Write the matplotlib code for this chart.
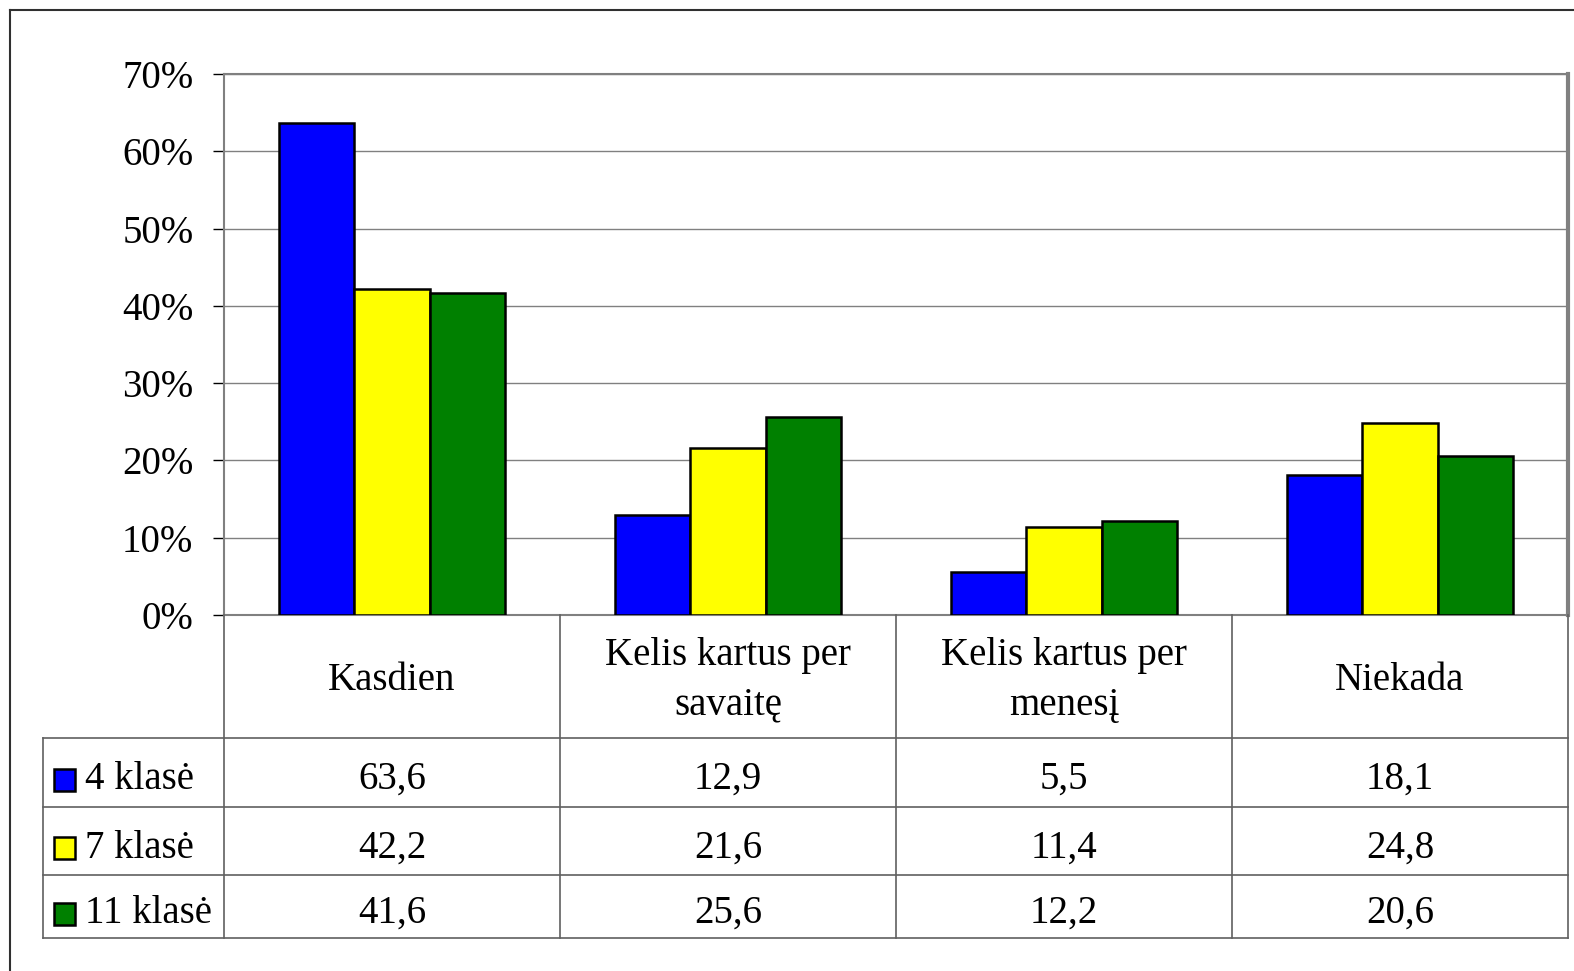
import matplotlib.pyplot as plt
import matplotlib.transforms as mtransforms
from matplotlib.lines import Line2D
from matplotlib.patches import Rectangle
import numpy as np

plt.rcParams['font.family'] = ['Liberation Serif', 'DejaVu Serif']

categories = ['Kasdien', 'Kelis kartus per\nsavaitę', 'Kelis kartus per\nmenesį', 'Niekada']
series = ['4 klasė', '7 klasė', '11 klasė']
values_4 = [63.6, 12.9, 5.5, 18.1]
values_7 = [42.2, 21.6, 11.4, 24.8]
values_11 = [41.6, 25.6, 12.2, 20.6]
colors = ['#0000FF', '#FFFF00', '#008000']
yticks = [0, 10, 20, 30, 40, 50, 60, 70]

W, H = 1574, 971
fig = plt.figure(figsize=(W / 100, H / 100), dpi=100)

def fy(px):
    return 1 - px / H

def fx(px):
    return px / W

ax = fig.add_axes([fx(224), fy(615), fx(1568) - fx(224), fy(74) - fy(615)])

x = np.arange(len(categories))
bw = 0.225
all_vals = [values_4, values_7, values_11]
for i, (vals, c) in enumerate(zip(all_vals, colors)):
    ax.bar(x + (i - 1) * bw, vals, bw, color=c, edgecolor='black', linewidth=1.8, zorder=3)

ax.set_xlim(-0.5, len(categories) - 0.5)
ax.set_ylim(0, 70)
ax.set_yticks(yticks)
ax.set_yticklabels([f'{t}%' for t in yticks], fontsize=28)
ax.tick_params(axis='y', length=8, width=1, color='black', pad=14)
ax.set_xticks([])
ax.grid(axis='y', color='#808080', linewidth=1.0, zorder=0)
for s in ['left', 'bottom', 'top']:
    ax.spines[s].set_color('#808080')
    ax.spines[s].set_linewidth(1.5)
ax.spines['right'].set_color('#808080')
ax.spines['right'].set_linewidth(3)

# data table below the chart
tr = mtransforms.blended_transform_factory(ax.transData, fig.transFigure)
line_c = '#606060'
edges = np.arange(len(categories) + 1) - 0.5
y_head_top, y_head_bot = 615, 738
row_lines = [738, 807, 875, 938]

for e in edges:
    fig.add_artist(Line2D([e, e], [fy(y_head_top), fy(row_lines[-1])], transform=tr,
                          color=line_c, linewidth=1.2))
for yl in row_lines:
    fig.add_artist(Line2D([fx(43), fx(1568)], [fy(yl), fy(yl)], transform=fig.transFigure,
                          color=line_c, linewidth=1.2))
fig.add_artist(Line2D([fx(43), fx(43)], [fy(738), fy(938)], transform=fig.transFigure,
                      color=line_c, linewidth=1.2))

for xi, cat in zip(x, categories):
    fig.text(xi, fy((y_head_top + y_head_bot) / 2 + 4), cat, transform=tr, ha='center', va='center',
             fontsize=28, linespacing=1.45)

for r, (name, vals, c) in enumerate(zip(series, all_vals, colors)):
    yc = (row_lines[r] + row_lines[r + 1]) / 2 + 7
    fig.add_artist(Rectangle((fx(54), fy(yc + 11)), fx(75) - fx(54), fy(yc - 11) - fy(yc + 11),
                             transform=fig.transFigure, facecolor=c, edgecolor='black', linewidth=1.8))
    fig.text(fx(85), fy(yc), name, ha='left', va='center', fontsize=28)
    for xi, v in zip(x, vals):
        fig.text(xi, fy(yc), f'{v:.1f}'.replace('.', ','), transform=tr, ha='center', va='center',
                 fontsize=28)

# outer frame
fig.add_artist(Line2D([fx(10), fx(10)], [fy(10), 0], transform=fig.transFigure, color='#303030', linewidth=1.5))
fig.add_artist(Line2D([fx(10), 1], [fy(10), fy(10)], transform=fig.transFigure, color='#303030', linewidth=1.5))

fig.savefig('out.png', dpi=100)
